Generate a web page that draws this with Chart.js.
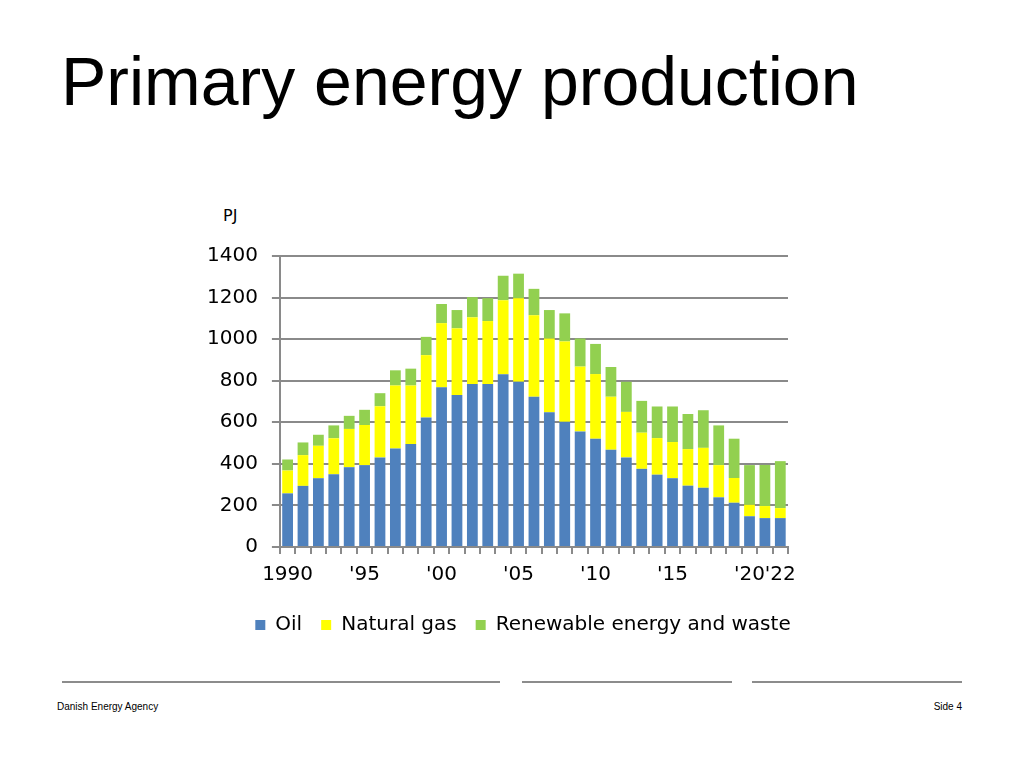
<!DOCTYPE html>
<html>
<head>
<meta charset="utf-8">
<script src="https://cdn.jsdelivr.net/npm/chart.js@4/dist/chart.umd.min.js"></script>
<style>
  body { margin: 0; width: 1024px; height: 768px; background: #fff; position: relative; overflow: hidden; font-family: "Liberation Sans", Arial, sans-serif; }
  #title { position: absolute; left: 61px; top: 42px; font-size: 68px; color: #000; white-space: nowrap; }
  #unit { position: absolute; left: 223px; top: 206px; font-family: "DejaVu Sans", sans-serif; font-size: 16px; color: #000; }
  #wrap { position: absolute; left: 176px; top: 230px; width: 677px; height: 415px; }
  .rule { position: absolute; top: 681px; height: 2px; background: #8c8c8c; }
  #src { position: absolute; left: 57px; top: 701px; font-size: 10px; }
  #page { position: absolute; right: 62px; top: 701px; font-size: 10px; }
</style>
</head>
<body>
<div id="title">Primary energy production</div>
<div id="unit">PJ</div>
<div id="wrap"><canvas id="energyChart" width="677" height="415"></canvas></div>
<div class="rule" style="left:62px;width:438px"></div>
<div class="rule" style="left:522px;width:210px"></div>
<div class="rule" style="left:752px;width:210px"></div>
<div id="src">Danish Energy Agency</div>
<div id="page">Side 4</div>
<script>
const years = [1990, 1991, 1992, 1993, 1994, 1995, 1996, 1997, 1998, 1999,
  2000, 2001, 2002, 2003, 2004, 2005, 2006, 2007, 2008, 2009,
  2010, 2011, 2012, 2013, 2014, 2015, 2016, 2017, 2018, 2019,
  2020, 2021, 2022];

const oil = [258, 294, 331, 350, 384, 394, 431, 474, 495, 623,
  768, 731, 784, 784, 831, 795, 723, 648, 602, 556,
  521, 468, 431, 376, 348, 331, 295, 285, 239, 213,
  148, 139, 139];

const naturalGas = [110, 148, 156, 173, 184, 193, 246, 303, 282, 300,
  309, 321, 321, 303, 356, 402, 392, 355, 387, 312,
  311, 255, 219, 174, 176, 174, 176, 192, 155, 119,
  55, 58, 48];

const renewables = [53, 61, 53, 62, 63, 73, 63, 73, 81, 88,
  92, 88, 97, 110, 118, 118, 127, 137, 135, 135,
  145, 143, 145, 153, 152, 171, 169, 181, 191, 189,
  191, 198, 226];

// which years get a label on the x axis
const tickLabels = { 1990: "1990", 1995: "'95", 2000: "'00", 2005: "'05",
  2010: "'10", 2015: "'15", 2020: "'20", 2022: "'22" };

const gridGray = "#8a8a8a";
const tickFont = { family: "DejaVu Sans", size: 20 };

document.addEventListener("DOMContentLoaded", () => {
  const ctx = document.getElementById("energyChart").getContext("2d");

  new Chart(ctx, {
    type: "bar",
    data: {
      labels: years,
      datasets: [
        { label: "Oil", data: oil, backgroundColor: "#4F81BD" },
        { label: "Natural gas", data: naturalGas, backgroundColor: "#FFFF00" },
        { label: "Renewable energy and waste", data: renewables, backgroundColor: "#92D050" }
      ]
    },
    options: {
      responsive: false,
      animation: false,
      categoryPercentage: 1,
      barPercentage: 0.7,
      layout: { padding: { left: 17, right: 0, top: 20, bottom: 0 } },
      plugins: {
        tooltip: { enabled: false },
        legend: {
          position: "bottom",
          labels: {
            color: "#000",
            font: tickFont,
            boxWidth: 10,
            boxHeight: 10,
            padding: 19
          }
        }
      },
      scales: {
        x: {
          stacked: true,
          grid: {
            display: true,
            drawOnChartArea: false,
            drawTicks: true,
            tickLength: 7,
            color: gridGray,
            lineWidth: 2
          },
          border: { color: gridGray, width: 2 },
          ticks: {
            color: "#000",
            font: tickFont,
            autoSkip: false,
            maxRotation: 0,
            padding: 9,
            callback: function (value, index) {
              const y = years[index];
              return tickLabels[y] || "";
            }
          }
        },
        y: {
          stacked: true,
          min: 0,
          max: 1400,
          grid: {
            color: gridGray,
            lineWidth: 2,
            tickLength: 8
          },
          border: { color: gridGray, width: 2 },
          ticks: {
            stepSize: 200,
            color: "#000",
            font: tickFont,
            padding: 14,
            callback: (v) => String(v)
          }
        },
        // empty right-hand strip so the legend sits centred like the slide
        spacer: {
          type: "linear",
          position: "right",
          afterFit: (scale) => { scale.width = 65; },
          grid: { display: false },
          border: { display: false },
          ticks: { display: false }
        }
      }
    }
  });
});
</script>
</body>
</html>
